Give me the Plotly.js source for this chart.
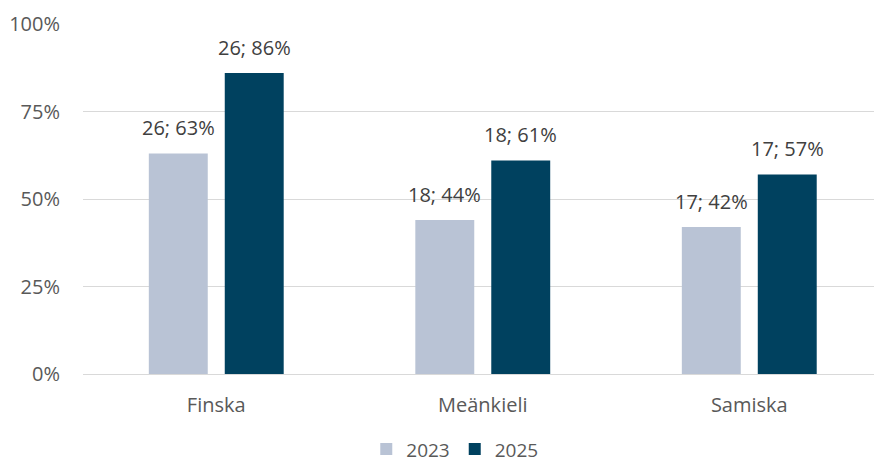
<!DOCTYPE html>
<html>
<head>
<meta charset="utf-8">
<script src="https://cdn.plot.ly/plotly-3.0.1.min.js"></script>
<style>
  html, body { margin: 0; padding: 0; background: #fff; }
  #chart { width: 874px; height: 465px; }
</style>
</head>
<body>
<div id="chart"></div>
<script>
var sprak = ['Finska', 'Meänkieli', 'Samiska'];
var antal2023 = [26, 18, 17];
var antal2025 = [26, 18, 17];
var andel2023 = [63, 44, 42];
var andel2025 = [86, 61, 57];
var yTicks = [0, 25, 50, 75, 100];
var yTickText = ['0%', '25%', '50%', '75%', '100%'];

var trace2023 = {
  x: sprak,
  y: andel2023,
  type: 'bar',
  name: '2023',
  marker: { color: '#b9c3d5' },
  hoverinfo: 'skip'
};

var trace2025 = {
  x: sprak,
  y: andel2025,
  type: 'bar',
  name: '2025',
  marker: { color: '#00415f' },
  hoverinfo: 'skip'
};

// etiketter "antal; andel" ovanför staplarna
function etiketter(andel, antal, shift) {
  return sprak.map(function (s, i) {
    return {
      x: s, y: andel[i], xref: 'x', yref: 'y',
      text: antal[i] + '; ' + andel[i] + '%',
      showarrow: false, xshift: shift, yshift: 26,
      yanchor: 'middle',
      font: { family: 'Open Sans', size: 20, color: '#404040' }
    };
  });
}

var annotations = etiketter(andel2023, antal2023, -38).concat(etiketter(andel2025, antal2025, 38));

var layout = {
  width: 874, height: 465,
  margin: { l: 83, r: 0, t: 24, b: 91, autoexpand: false },
  paper_bgcolor: '#fff', plot_bgcolor: '#fff',
  font: { family: 'Open Sans', size: 20, color: '#595959' },
  barmode: 'group',
  bargap: 0.43,
  bargroupgap: 0.224,
  showlegend: true,
  legend: {
    orientation: 'h', x: 0.47, xanchor: 'center', y: -0.215, yanchor: 'middle',
    font: { size: 19, color: '#595959' }, itemwidth: 30, tracegroupgap: 0
  },
  xaxis: {
    range: [-0.5, 2.468],
    showgrid: false, showline: true, linecolor: '#d9d9d9', linewidth: 1,
    ticks: '', ticklabelstandoff: 13, zeroline: false, automargin: false
  },
  yaxis: {
    range: [0, 100],
    tickvals: yTicks, ticktext: yTickText,
    showgrid: true, gridcolor: '#d9d9d9', gridwidth: 1,
    zeroline: false, showline: false, ticks: '', ticklabelstandoff: 22, automargin: false
  },
  annotations: annotations
};

Plotly.newPlot('chart', [trace2023, trace2025], layout, { displayModeBar: false, staticPlot: true });
</script>
</body>
</html>
